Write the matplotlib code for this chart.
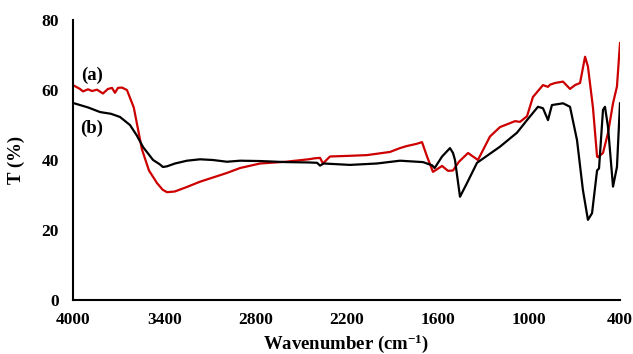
import numpy as np
import matplotlib.pyplot as plt

# spectrum (a), red
wn_a = [4000, 3954, 3934, 3901, 3875, 3842, 3803, 3770, 3743, 3724, 3704, 3678,
        3645, 3600, 3546, 3500, 3447, 3410, 3381, 3330, 3250, 3164, 3079, 2987,
        2901, 2769, 2600, 2450, 2407, 2374, 2355, 2309, 2177, 2065, 1914, 1848,
        1802, 1740, 1703, 1670, 1631, 1571, 1532, 1499, 1460, 1400, 1335, 1256,
        1190, 1091, 1058, 1012, 973, 907, 874, 861, 828, 775, 729, 696, 663,
        630, 611, 578, 551, 545, 512, 479, 446, 420, 400]
t_a = [61.4, 60.3, 59.6, 60.2, 59.7, 60.1, 59.0, 60.3, 60.6, 59.2, 60.6, 60.7,
       60.0, 55.0, 43.0, 37.0, 33.4, 31.5, 30.8, 31.0, 32.3, 33.8, 35.0, 36.3,
       37.7, 39.0, 39.5, 40.2, 40.5, 40.6, 39.0, 41.0, 41.2, 41.4, 42.3, 43.4,
       44.0, 44.6, 45.1, 41.0, 36.6, 38.3, 36.9, 37.0, 39.5, 42.0, 40.0, 46.7,
       49.4, 51.1, 50.9, 52.5, 58.0, 61.4, 60.9, 61.5, 62.0, 62.4, 60.3, 61.4,
       62.0, 69.5, 66.7, 55.0, 41.0, 40.8, 42.0, 47.7, 56.2, 61.0, 73.4]

# spectrum (b), black
wn_b = [4000, 3900, 3822, 3750, 3691, 3625, 3580, 3539, 3473, 3430, 3408, 3381,
        3329, 3250, 3164, 3079, 2987, 2900, 2769, 2600, 2450, 2394, 2374, 2350,
        2177, 2000, 1848, 1697, 1637, 1620, 1571, 1519, 1499, 1486, 1453, 1407,
        1341, 1190, 1078, 1012, 940, 907, 874, 848, 775, 729, 683, 644, 611, 584,
        551, 538, 512, 499, 479, 446, 420, 400]
t_b = [56.3, 55.0, 53.7, 53.2, 52.3, 50.0, 47.0, 43.7, 40.0, 38.8, 38.0, 38.2,
       39.0, 39.8, 40.2, 40.0, 39.5, 39.8, 39.7, 39.4, 39.3, 39.2, 38.4, 39.0,
       38.6, 39.0, 39.8, 39.4, 38.5, 37.7, 41.0, 43.4, 42.0, 40.0, 29.5, 33.4,
       39.2, 43.8, 47.8, 51.4, 55.2, 54.8, 51.4, 55.7, 56.2, 55.2, 45.7, 31.4,
       22.9, 24.8, 37.0, 37.6, 54.3, 55.2, 49.5, 32.4, 38.0, 56.2]

xticks = [4000, 3400, 2800, 2200, 1600, 1000, 400]
yticks = [0, 20, 40, 60, 80]

plt.rcParams['font.family'] = ['Liberation Serif', 'DejaVu Serif']
plt.rcParams['font.weight'] = 'bold'
plt.rcParams['mathtext.fontset'] = 'custom'
plt.rcParams['mathtext.rm'] = 'Liberation Serif:bold'
plt.rcParams['mathtext.bf'] = 'Liberation Serif:bold'
plt.rcParams['mathtext.default'] = 'bf'

fig = plt.figure(figsize=(6.33, 3.54), dpi=100)
ax = fig.add_axes([73 / 633, 1 - 300 / 354, 547 / 633, 280 / 354])

ax.plot(wn_a, t_a, color='#cc0000', lw=1.6)
ax.plot(wn_b, t_b, color='black', lw=1.6)

ax.set_xlim(4000, 400)
ax.set_ylim(0, 80)
ax.set_xticks(xticks)
ax.set_yticks(yticks)
ax.tick_params(axis='x', length=0, labelsize=12.5, pad=9)
ax.tick_params(axis='y', length=0, labelsize=12.5, pad=10)
for lab in ax.get_xticklabels() + ax.get_yticklabels():
    lab.set_fontweight('bold')

for s in ['top', 'right']:
    ax.spines[s].set_visible(False)
for s in ['left', 'bottom']:
    ax.spines[s].set_linewidth(1.5)

ax.set_xlabel('Wavenumber (cm$^{-1}$)', fontsize=13.5, fontweight='bold', labelpad=3)
ax.set_ylabel('T (%)', fontsize=13.5, fontweight='bold', labelpad=12)

ax.text(3875, 64.3, '(a)', fontsize=13.5, fontweight='bold', ha='center', va='center')
ax.text(3875, 49.0, '(b)', fontsize=13.5, fontweight='bold', ha='center', va='center')

fig.savefig('out.png', dpi=100, facecolor='white')
